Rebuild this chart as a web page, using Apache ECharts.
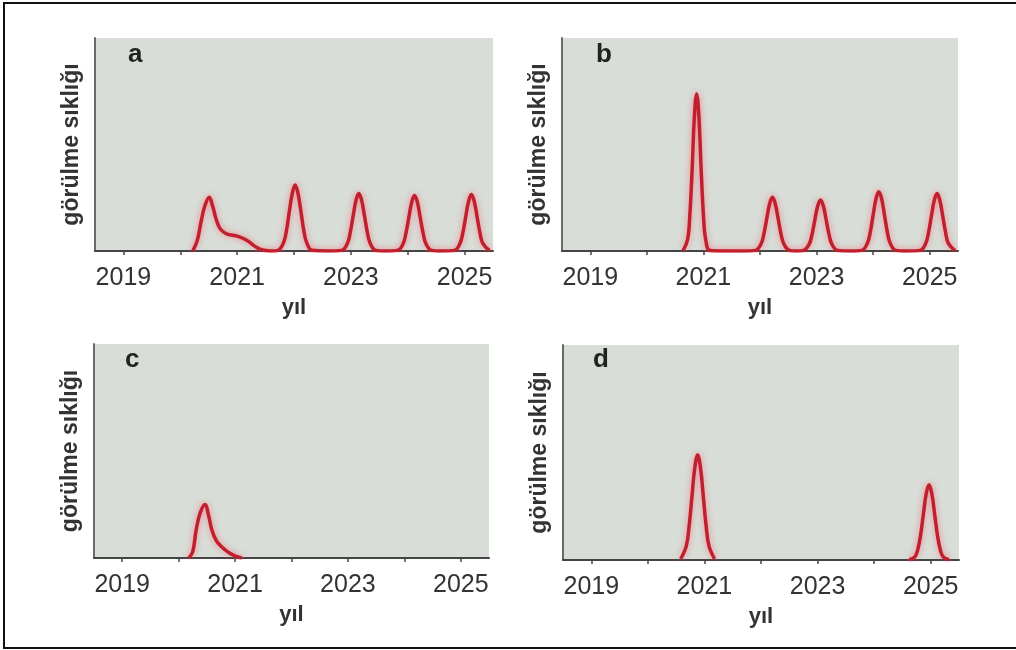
<!DOCTYPE html>
<html>
<head>
<meta charset="utf-8">
<script src="https://cdn.jsdelivr.net/npm/echarts@6/dist/echarts.min.js"></script>
<style>
html,body{margin:0;padding:0;background:#fff;}
#chart{width:1016px;height:650px;}
</style>
</head>
<body>
<div id="chart"></div>
<script>
// ---- data (year, relative frequency) ----
var panelLetters = ['a', 'b', 'c', 'd'];
var tickYears = [2019, 2020, 2021, 2022, 2023, 2024, 2025];
var labelYears = [2019, 2021, 2023, 2025];
var yName = 'görülme sıklığı';
var xName = 'yıl';

var seriesA = [
  [2020.22,0],[2020.3,0.05],[2020.36,0.13],[2020.43,0.21],[2020.51,0.252],[2020.57,0.21],[2020.63,0.15],
  [2020.7,0.105],[2020.8,0.082],[2020.9,0.075],[2021.0,0.07],[2021.1,0.06],[2021.2,0.045],[2021.3,0.024],
  [2021.4,0.009],[2021.5,0.002],[2021.6,0],
  [2021.72,0.003],[2021.82,0.042],[2021.87,0.10],[2021.92,0.19],[2021.97,0.27],[2022.02,0.31],[2022.07,0.27],
  [2022.12,0.19],[2022.17,0.10],[2022.22,0.042],[2022.32,0.003],[2022.6,0],
  [2022.84,0.003],[2022.94,0.036],[2022.99,0.088],[2023.04,0.164],[2023.09,0.238],[2023.14,0.27],[2023.19,0.238],
  [2023.24,0.164],[2023.29,0.088],[2023.34,0.036],[2023.44,0.003],[2023.6,0],
  [2023.82,0.003],[2023.92,0.035],[2023.97,0.085],[2024.02,0.158],[2024.07,0.229],[2024.12,0.26],[2024.17,0.229],
  [2024.22,0.158],[2024.27,0.085],[2024.32,0.035],[2024.42,0.003],[2024.6,0],
  [2024.82,0.003],[2024.92,0.036],[2024.97,0.086],[2025.02,0.161],[2025.07,0.233],[2025.12,0.265],[2025.17,0.233],
  [2025.22,0.161],[2025.27,0.086],[2025.32,0.036],[2025.44,0.002]
];

var seriesB = [
  [2020.64,0.002],[2020.72,0.054],[2020.76,0.17],[2020.8,0.38],[2020.84,0.63],[2020.88,0.737],[2020.92,0.63],
  [2020.96,0.38],[2021.0,0.17],[2021.04,0.054],[2021.12,0.002],[2021.4,0],[2021.7,0],
  [2021.92,0.003],[2022.02,0.034],[2022.07,0.082],[2022.12,0.153],[2022.17,0.222],[2022.22,0.252],[2022.27,0.222],
  [2022.32,0.153],[2022.37,0.082],[2022.42,0.034],[2022.52,0.003],[2022.65,0],
  [2022.77,0.003],[2022.87,0.032],[2022.92,0.078],[2022.97,0.146],[2023.02,0.211],[2023.07,0.24],[2023.12,0.211],
  [2023.17,0.146],[2023.22,0.078],[2023.27,0.032],[2023.37,0.003],[2023.6,0],
  [2023.8,0.003],[2023.9,0.038],[2023.95,0.09],[2024.0,0.169],[2024.05,0.245],[2024.1,0.278],[2024.15,0.245],
  [2024.2,0.169],[2024.25,0.09],[2024.3,0.038],[2024.4,0.003],[2024.6,0],
  [2024.83,0.003],[2024.93,0.036],[2024.98,0.088],[2025.03,0.164],[2025.08,0.238],[2025.13,0.27],[2025.18,0.238],
  [2025.23,0.164],[2025.28,0.088],[2025.33,0.036],[2025.45,0.002]
];

var seriesC = [
  [2020.18,0],[2020.25,0.03],[2020.31,0.13],[2020.38,0.21],[2020.47,0.25],[2020.53,0.2],[2020.59,0.13],
  [2020.67,0.08],[2020.75,0.055],[2020.9,0.023],[2021.02,0.008],[2021.12,0]
];

var seriesD1 = [
  [2020.58,0.005],[2020.68,0.066],[2020.73,0.159],[2020.78,0.296],[2020.83,0.43],[2020.88,0.488],[2020.93,0.43],
  [2020.98,0.296],[2021.03,0.159],[2021.08,0.066],[2021.18,0.005]
];
var seriesD2 = [
  [2024.62,0.001],[2024.72,0.015],[2024.77,0.047],[2024.82,0.114],[2024.87,0.212],[2024.92,0.308],[2024.97,0.35],
  [2025.02,0.308],[2025.07,0.212],[2025.12,0.114],[2025.17,0.047],[2025.22,0.015],[2025.32,0.001]
];

// ---- layout ----
var grids = [
  {left: 95, top: 38, width: 398, height: 213},
  {left: 562, top: 38, width: 396, height: 213},
  {left: 94, top: 344, width: 395, height: 214},
  {left: 563, top: 345, width: 396, height: 215}
];
var letterPos = [[128, 42], [596, 42], [125, 347], [593, 347]];
var panelSeries = [[seriesA], [seriesB], [seriesC], [seriesD1, seriesD2]];

var axisColor = '#444444';
var textColor = '#333333';
var font = '"Liberation Sans", Arial, sans-serif';

var option = {
  backgroundColor: '#ffffff',
  animation: false,
  title: panelLetters.map(function (l, i) {
    return {
      text: l, left: letterPos[i][0], top: letterPos[i][1], padding: 0,
      textStyle: {fontSize: 26, fontWeight: 'bold', color: '#222', fontFamily: font}
    };
  }),
  grid: grids.map(function (g) {
    return {left: g.left, top: g.top, width: g.width, height: g.height,
      show: true, backgroundColor: '#d8ddd7', borderWidth: 0, containLabel: false};
  }),
  xAxis: grids.map(function (g, i) {
    return {
      type: 'value', gridIndex: i, min: 2018.5, max: 2025.5,
      name: xName, nameLocation: 'middle', nameGap: 46,
      nameTextStyle: {fontSize: 22, fontWeight: 'bold', color: textColor, fontFamily: font},
      axisLine: {show: true, lineStyle: {color: axisColor, width: 2}},
      axisTick: {show: true, customValues: tickYears, length: 4, inside: false, lineStyle: {color: axisColor, width: 1.5}},
      axisLabel: {show: true, customValues: labelYears, margin: 15, fontSize: 25, color: textColor, fontFamily: font,
        formatter: function (v) { return String(v); }},
      splitLine: {show: false}
    };
  }),
  yAxis: grids.map(function (g, i) {
    return {
      type: 'value', gridIndex: i, min: 0, max: 1,
      name: yName, nameLocation: 'middle', nameRotate: 90, nameGap: 12,
      nameTextStyle: {fontSize: 23, fontWeight: 'bold', color: textColor, fontFamily: font},
      axisLine: {show: true, lineStyle: {color: '#6a6a6a', width: 2}},
      axisTick: {show: false},
      axisLabel: {show: false},
      splitLine: {show: false}
    };
  }),
  series: [],
  graphic: [{
    type: 'rect', silent: true, z: 100,
    shape: {x: 4, y: 3, width: 1030, height: 645},
    style: {fill: 'none', stroke: '#111', lineWidth: 2}
  }]
};

panelSeries.forEach(function (list, i) {
  list.forEach(function (d) {
    option.series.push({
      type: 'line', xAxisIndex: i, yAxisIndex: i, data: d,
      smooth: 0.4, showSymbol: false, symbol: 'none', clip: true,
      lineStyle: {color: '#c21f2e', width: 3.5, shadowColor: 'rgba(255,70,90,0.6)', shadowBlur: 6},
      z: 3
    });
  });
});

var chart = echarts.init(document.getElementById('chart'), null, {renderer: 'canvas'});
chart.setOption(option);
</script>
</body>
</html>
